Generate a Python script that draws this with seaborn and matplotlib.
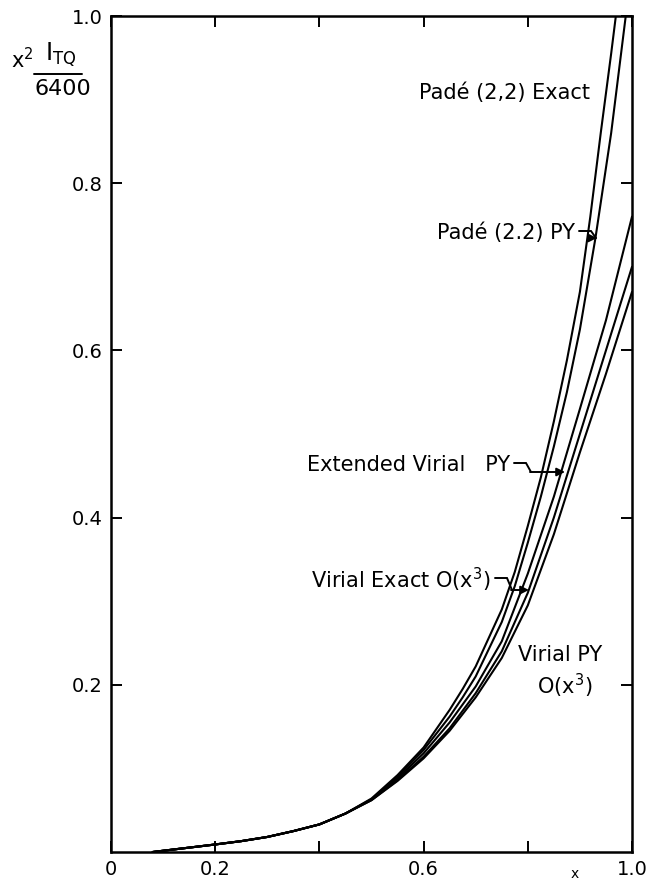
import numpy as np
import pandas as pd
import matplotlib
matplotlib.use("Agg")
import matplotlib.pyplot as plt
from matplotlib.lines import Line2D
import seaborn as sns

# ---- data ----
x_low = [0.08, 0.12, 0.16, 0.20, 0.25, 0.30, 0.35, 0.40, 0.45]
y_low = [0.000, 0.003, 0.006, 0.009, 0.013, 0.018, 0.025, 0.033, 0.046]

x_pade_exact = [0.50, 0.55, 0.60, 0.65, 0.675, 0.70, 0.75, 0.775, 0.80, 0.825, 0.85, 0.875, 0.90, 0.92, 0.94, 0.96, 0.969]
y_pade_exact = [0.064, 0.092, 0.125, 0.170, 0.195, 0.222, 0.290, 0.335, 0.390, 0.448, 0.515, 0.588, 0.670, 0.760, 0.860, 0.955, 1.000]

x_pade_py = [0.50, 0.55, 0.60, 0.65, 0.675, 0.70, 0.75, 0.775, 0.80, 0.825, 0.85, 0.875, 0.90, 0.93, 0.96, 0.988]
y_pade_py = [0.063, 0.090, 0.122, 0.162, 0.185, 0.210, 0.275, 0.318, 0.370, 0.425, 0.485, 0.550, 0.625, 0.735, 0.860, 1.000]

x_ext_virial = [0.50, 0.55, 0.60, 0.65, 0.70, 0.75, 0.80, 0.85, 0.90, 0.95, 1.00]
y_ext_virial = [0.063, 0.088, 0.118, 0.155, 0.198, 0.252, 0.333, 0.425, 0.530, 0.636, 0.760]

x_virial_exact = [0.50, 0.55, 0.60, 0.65, 0.70, 0.75, 0.80, 0.85, 0.90, 0.95, 1.00]
y_virial_exact = [0.062, 0.086, 0.114, 0.148, 0.190, 0.240, 0.310, 0.400, 0.500, 0.600, 0.700]

x_virial_py = [0.50, 0.55, 0.60, 0.65, 0.70, 0.75, 0.80, 0.85, 0.90, 0.95, 1.00]
y_virial_py = [0.062, 0.085, 0.112, 0.145, 0.185, 0.232, 0.295, 0.380, 0.478, 0.572, 0.670]

curves = {
    "Padé Exact": (x_pade_exact, y_pade_exact),
    "Padé PY": (x_pade_py, y_pade_py),
    "Extended Virial PY": (x_ext_virial, y_ext_virial),
    "Virial Exact": (x_virial_exact, y_virial_exact),
    "Virial PY": (x_virial_py, y_virial_py),
}

x_ticks = [0.0, 0.2, 0.4, 0.6, 0.8, 1.0]
x_ticklabels = ["0", "0.2", "", "0.6", "", "1.0"]
y_ticks = [0.2, 0.4, 0.6, 0.8, 1.0]
y_ticklabels = ["0.2", "0.4", "0.6", "0.8", "1.0"]

rows = []
for name, (xs, ys) in curves.items():
    for xv, yv in zip(x_low + list(xs), y_low + list(ys)):
        rows.append({"curve": name, "x": xv, "y": yv})
df = pd.DataFrame(rows)

# ---- figure ----
sns.set_style("ticks")
plt.rcParams["font.family"] = ["DejaVu Sans"]
for k in ["text.color", "axes.labelcolor", "xtick.color", "ytick.color", "axes.edgecolor"]:
    plt.rcParams[k] = "black"

W, H = 649, 884
fig = plt.figure(figsize=(W / 100, H / 100), dpi=100)
L, R, T, B = 111, 632, 16, 852
ax = fig.add_axes([L / W, (H - B) / H, (R - L) / W, (B - T) / H])

sns.lineplot(data=df, x="x", y="y", units="curve", estimator=None, sort=False,
             color="black", lw=1.5, ax=ax, legend=False)

ax.set_xlim(0, 1.0)
ax.set_ylim(0, 1.0)
ax.set_xticks(x_ticks)
ax.set_xticklabels(x_ticklabels)
ax.set_yticks(y_ticks)
ax.set_yticklabels(y_ticklabels)
ax.tick_params(direction="in", length=8, width=1.4, labelsize=14, colors="black",
               top=True, right=True, pad=6)
ax.set_xlabel("")
ax.set_ylabel("")
for s in ax.spines.values():
    s.set_linewidth(1.8)
    s.set_color("black")

def dx(px):
    return (px - L) / (R - L)
def dy(py):
    return (B - py) / (B - T)

# x axis label
ax.text(dx(575), dy(874), "x", ha="center", va="center", fontsize=10, clip_on=False)

# y axis label: x^2 I_TQ / 6400
def fx(px):
    return px / W
def fy(py):
    return 1 - py / H
fig.text(fx(22), fy(60), "x$^2$", ha="center", va="center", fontsize=15)
fig.text(fx(61), fy(55), r"$\mathregular{I_{TQ}}$", ha="center", va="center", fontsize=17)
fig.add_artist(Line2D([fx(34), fx(82)], [fy(74), fy(74)], color="black", lw=1.4))
fig.text(fx(63), fy(89), "6400", ha="center", va="center", fontsize=16)

# curve labels
fs = 15
ax.text(dx(590), dy(93), "Padé (2,2) Exact", ha="right", va="center", fontsize=fs)
ax.text(dx(560), dy(655), "Virial PY", ha="center", va="center", fontsize=fs)
ax.text(dx(565), dy(686), "O(x$^3$)", ha="center", va="center", fontsize=fs)

def squiggle(label, end_px, text_py, tip_px, tip_py):
    ax.text(dx(end_px), dy(text_py), label, ha="right", va="center", fontsize=fs)
    xs = [end_px + 4, end_px + 16, end_px + 21]
    ys = [text_py - 2, text_py - 2, tip_py]
    ax.plot([dx(v) for v in xs], [dy(v) for v in ys], color="black", lw=1.4,
            solid_joinstyle="miter")
    ax.annotate("", xy=(dx(tip_px), dy(tip_py)), xytext=(dx(end_px + 20), dy(tip_py)),
                arrowprops=dict(arrowstyle="-|>", color="black", lw=1.4,
                                shrinkA=0, shrinkB=0, mutation_scale=12))

squiggle("Padé (2.2) PY", 575, 233, 597, 238)
squiggle("Extended Virial   PY", 510, 465, 565, 472)
squiggle("Virial Exact O(x$^3$)", 491, 580, 529, 590)

fig.savefig("out.png", dpi=100)
